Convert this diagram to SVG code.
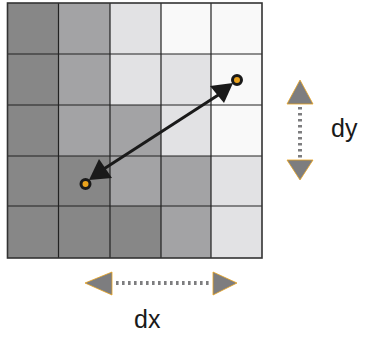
<svg xmlns="http://www.w3.org/2000/svg" width="379" height="338" viewBox="0 0 379 338">
<style>
.d{fill:#878787}.m{fill:#a3a3a5}.l{fill:#e2e2e4}.v{fill:#f9f9f9}
.gl{stroke:#222;stroke-width:1.2;fill:none}
.pt{fill:#eaa21c;stroke:#1a1a1a;stroke-width:3}
.tri{fill:#7d7d7f;stroke:#e8a21e;stroke-width:0.8}
.dots{stroke:#7d7d7f;stroke-width:4;stroke-dasharray:2.6 3.4;fill:none}
.lbl{font-family:"Liberation Sans",Arial,sans-serif;font-size:25px;fill:#1a1a1a}
</style>
<rect width="379" height="338" fill="#fff"/>
<g id="grid">
<rect class="d" x="7.5" y="3" width="51" height="51"/><rect class="m" x="58.5" y="3" width="51.5" height="51"/><rect class="l" x="110" y="3" width="51" height="51"/><rect class="v" x="161" y="3" width="50" height="51"/><rect class="v" x="211" y="3" width="51" height="51"/>
<rect class="d" x="7.5" y="54" width="51" height="51"/><rect class="m" x="58.5" y="54" width="51.5" height="51"/><rect class="l" x="110" y="54" width="51" height="51"/><rect class="l" x="161" y="54" width="50" height="51"/><rect class="v" x="211" y="54" width="51" height="51"/>
<rect class="d" x="7.5" y="105" width="51" height="51"/><rect class="m" x="58.5" y="105" width="51.5" height="51"/><rect class="m" x="110" y="105" width="51" height="51"/><rect class="l" x="161" y="105" width="50" height="51"/><rect class="v" x="211" y="105" width="51" height="51"/>
<rect class="d" x="7.5" y="156" width="51" height="50"/><rect class="d" x="58.5" y="156" width="51.5" height="50"/><rect class="m" x="110" y="156" width="51" height="50"/><rect class="m" x="161" y="156" width="50" height="50"/><rect class="l" x="211" y="156" width="51" height="50"/>
<rect class="d" x="7.5" y="206" width="51" height="52"/><rect class="d" x="58.5" y="206" width="51.5" height="52"/><rect class="d" x="110" y="206" width="51" height="52"/><rect class="m" x="161" y="206" width="50" height="52"/><rect class="l" x="211" y="206" width="51" height="52"/>
<path class="gl" d="M58.5 3V258M110 3V258M161 3V258M211 3V258M7.5 54H262M7.5 105H262M7.5 156H262M7.5 206H262"/>
<rect x="7.5" y="3" width="254.5" height="255" fill="none" stroke="#333" stroke-width="1.6"/>
</g>
<g id="connectors">
<line x1="226" y1="90" x2="96" y2="174" stroke="#1a1a1a" stroke-width="3"/>
<polygon points="233,83 210,86 224,103" fill="#1a1a1a"/>
<polygon points="89,180 99,159 112,178" fill="#1a1a1a"/>
</g>
<g id="p1"><circle class="pt" cx="237" cy="80" r="4.5"/></g>
<g id="p2"><circle class="pt" cx="85.5" cy="184" r="4.5"/></g>
<g id="dy">
<line class="dots" x1="300" y1="107" x2="300" y2="158"/>
<polygon class="tri" points="300,80 287,104 313,104"/>
<polygon class="tri" points="287,160 313,160 300,180"/>
<text class="lbl" x="331" y="137">dy</text>
</g>
<g id="dx">
<line class="dots" x1="116" y1="283" x2="211" y2="283"/>
<polygon class="tri" points="85,283 112,272 112,295"/>
<polygon class="tri" points="213,272 213,295 237,283"/>
<text class="lbl" x="134" y="328">dx</text>
</g>
</svg>
